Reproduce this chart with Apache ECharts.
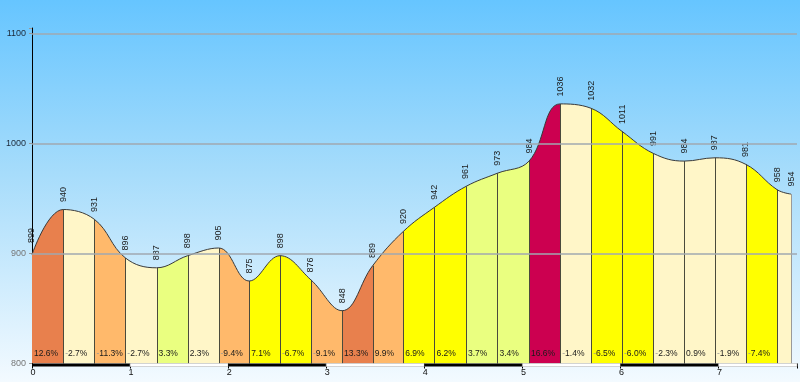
<!DOCTYPE html>
<html>
<head>
<meta charset="utf-8">
<script src="https://cdn.jsdelivr.net/npm/echarts@6/dist/echarts.min.js"></script>
<style>html,body{margin:0;padding:0;}#c{width:800px;height:382px;}</style>
</head>
<body>
<div id="c"></div>
<script>
// Distance along route (km) of each profile point
const distances = [0, 0.318, 0.637, 0.952, 1.270, 1.587, 1.902, 2.214, 2.529, 2.844, 3.162, 3.474, 3.785, 4.103, 4.425, 4.746, 5.068, 5.386, 5.701, 6.016, 6.335, 6.649, 6.964, 7.279, 7.597, 7.739];
// Elevation (m) at each point
const elevations = [899, 940, 931, 896, 887, 898, 905, 875, 898, 876, 848, 889, 920, 942, 961, 973, 984, 1036, 1032, 1011, 991, 984, 987, 981, 958, 954];
// Grade (%) of each segment (last short segment is unlabeled)
const grades = [12.6, -2.7, -11.3, -2.7, 3.3, 2.3, -9.4, 7.1, -6.7, -9.1, 13.3, 9.9, 6.9, 6.2, 3.7, 3.4, 16.6, -1.4, -6.5, -6.0, -2.3, 0.9, -1.9, -7.4, null];
// Axis ticks
const kmTicks = [0, 1, 2, 3, 4, 5, 6, 7];
const elevTicks = [800, 900, 1000, 1100];

function gradeColor(g) {
  if (g === null) return '#FFF6C8';
  const a = Math.abs(g);
  if (a < 3) return '#FFF6C8';
  if (a < 6) return '#EAFF80';
  if (a < 9) return '#FFFF00';
  if (a < 12) return '#FFB96B';
  if (a < 15) return '#E8804D';
  return '#CC0050';
}

const points = distances.map((d, i) => [d, elevations[i]]);
const labelPoints = points.map((p, i) => i === 0 ? { value: p, label: { offset: [4, 0] } } : p);
const pieces = grades.map((g, i) => ({ gte: distances[i], lt: distances[i + 1] + (i === grades.length - 1 ? 0.01 : 0), color: gradeColor(g) }));
const dividerData = points.slice(1);
const gradeData = grades.map((g, i) => [distances[i], g]).filter(d => d[1] !== null);
const barData = [];
for (let k = 0; k < kmTicks.length; k++) barData.push([kmTicks[k], kmTicks[k] + 1 > 7.8 ? 7.8 : kmTicks[k] + 1, k % 2]);

const chart = echarts.init(document.getElementById('c'), null, { renderer: 'canvas' });
chart.setOption({
  animation: false,
  backgroundColor: {
    type: 'linear', x: 0, y: 0, x2: 0, y2: 1,
    colorStops: [
      { offset: 0, color: '#66C5FF' },
      { offset: 0.45, color: '#A6DCFB' },
      { offset: 1, color: '#F3FAFF' }
    ]
  },
  grid: { left: 32, right: 0, top: 28, bottom: 18.5 },
  xAxis: {
    type: 'value', min: 0, max: 7.8, interval: 1,
    axisLine: { show: false },
    axisTick: { show: true, length: 5, lineStyle: { color: '#000' } },
    splitLine: { show: false },
    axisLabel: {
      margin: 3, fontSize: 9, color: '#111', fontFamily: 'Liberation Sans',
      padding: [2, 0, 0, 2],
      formatter: v => kmTicks.includes(v) ? String(v) : ''
    }
  },
  yAxis: {
    type: 'value', min: 800, max: 1105, interval: 100,
    axisLine: { show: true, lineStyle: { color: '#000', width: 1 } },
    axisTick: { show: true, length: 3, lineStyle: { color: '#999' } },
    splitLine: { show: false },
    axisLabel: {
      margin: 6, fontSize: 9, fontFamily: 'Liberation Sans',
      color: v => (v >= 1000 ? '#1c2838' : '#777'),
      formatter: v => elevTicks.includes(v) ? String(v) : ''
    }
  },
  visualMap: {
    type: 'piecewise', show: false, dimension: 0, seriesIndex: 1,
    pieces: pieces
  },
  series: [
    {
      type: 'line', data: [], z: 1, silent: true,
      markLine: {
        silent: true, symbol: 'none', label: { show: false },
        lineStyle: { color: '#A0A8B0', width: 1.5, type: 'solid' },
        data: elevTicks.slice(1).map(v => ({ yAxis: v }))
      }
    },
    {
      type: 'line', data: points, z: 2, smooth: 0.4, symbol: 'none',
      lineStyle: { width: 0 },
      areaStyle: { opacity: 1, origin: 'start' }
    },
    {
      type: 'custom', z: 3, data: dividerData, clip: false,
      renderItem: (params, api) => {
        const x = api.value(0), y = api.value(1);
        const p0 = api.coord([x, 800]), p1 = api.coord([x, y]);
        const last = params.dataIndex === dividerData.length - 1;
        return { type: 'line', shape: { x1: Math.round(p0[0]) + 0.5, y1: p0[1], x2: Math.round(p1[0]) + 0.5, y2: p1[1] },
          style: { stroke: last ? '#9a9a9a' : '#4a4a3c', lineWidth: 1 } };
      }
    },
    {
      type: 'line', data: labelPoints, z: 4, smooth: 0.4,
      symbol: 'circle', symbolSize: 1, itemStyle: { color: 'rgba(0,0,0,0)' },
      lineStyle: { color: '#3a3a3a', width: 1 },
      label: {
        show: true, position: 'top', distance: 7, rotate: 90,
        align: 'left', verticalAlign: 'middle',
        fontSize: 9, color: '#1a1a1a', fontFamily: 'Liberation Sans',
        formatter: p => String(p.value[1])
      }
    },
    {
      type: 'custom', z: 5, data: gradeData, clip: false,
      renderItem: (params, api) => {
        const x = api.value(0), g = api.value(1);
        const p = api.coord([x, 800]);
        const txt = g < 0 ? '{m|-}' + Math.abs(g).toFixed(1) + '%' : g.toFixed(1) + '%';
        return { type: 'text', style: {
          text: txt, x: p[0] + 2, y: p[1] - 9.5, verticalAlign: 'middle', align: 'left',
          fill: '#1a1a1a', font: '8.5px "Liberation Sans"',
          rich: { m: { fill: '#999999', font: '8.5px "Liberation Sans"' } }
        } };
      }
    },
    {
      type: 'custom', z: 6, data: barData, clip: false,
      renderItem: (params, api) => {
        const a = api.coord([api.value(0), 800]), b = api.coord([api.value(1), 800]);
        const white = api.value(2) === 1;
        return { type: 'rect', shape: { x: a[0], y: a[1], width: b[0] - a[0], height: 3 },
          style: white ? { fill: '#ffffff', stroke: '#b8b8b8', lineWidth: 0.6 } : { fill: '#000' } };
      }
    }
  ]
});
</script>
</body>
</html>
